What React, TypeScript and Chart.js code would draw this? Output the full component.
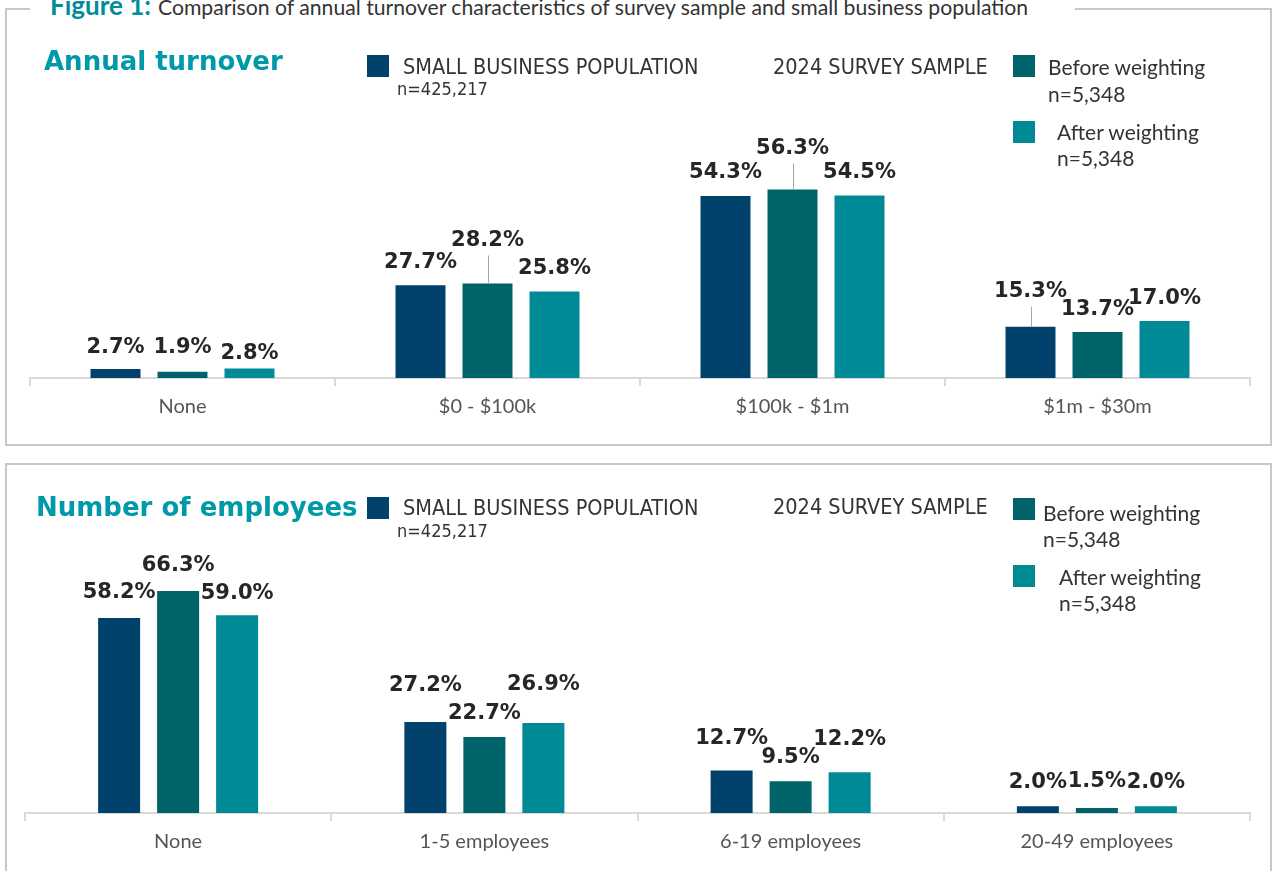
import React, { useEffect, useRef } from 'react';
import { Chart, registerables } from 'chart.js';

Chart.register(...registerables);

// ---------- data ----------
const seriesNames = ['SMALL BUSINESS POPULATION', 'Before weighting', 'After weighting'];
const seriesColors = ['#00426b', '#00636a', '#008a96'];

const turnoverCategories = ['None', '$0 - $100k', '$100k - $1m', '$1m - $30m'];
const turnoverPopulation = [2.7, 27.7, 54.3, 15.3];
const turnoverBefore = [1.9, 28.2, 56.3, 13.7];
const turnoverAfter = [2.8, 25.8, 54.5, 17.0];

const employeeCategories = ['None', '1-5 employees', '6-19 employees', '20-49 employees'];
const employeePopulation = [58.2, 27.2, 12.7, 2.0];
const employeeBefore = [66.3, 22.7, 9.5, 1.5];
const employeeAfter = [59.0, 26.9, 12.2, 2.0];

// ---------- label placement (style, not data) ----------
const turnoverLift = [
  [21, 23, 24, 35],
  [24, 43, 41, 23],
  [15, 23, 23, 23],
];
const turnoverLeader = [
  [false, false, false, true],
  [false, true, true, false],
  [false, false, false, false],
];
const employeeLift = [
  [25, 36, 32, 24],
  [25, 23, 24, 26],
  [22, 38, 33, 24],
];
const employeeLeader = [
  [false, false, false, false],
  [false, false, false, false],
  [false, false, false, false],
];

const TEAL = '#0099a8';
const BORDER = '#c8c8c8';

const makeValueLabels = (lifts: number[][], leaders: boolean[][]) => ({
  id: 'valueLabels',
  afterDatasetsDraw(chart: any) {
    const ctx = chart.ctx;
    ctx.save();
    ctx.font = 'bold 21px "DejaVu Sans"';
    ctx.fillStyle = '#262626';
    ctx.textAlign = 'center';
    ctx.textBaseline = 'middle';
    chart.data.datasets.forEach((ds: any, i: number) => {
      const meta = chart.getDatasetMeta(i);
      meta.data.forEach((el: any, j: number) => {
        const v = ds.data[j] as number;
        const x = el.x;
        const y = el.y;
        const ly = y - lifts[i][j];
        if (leaders[i][j]) {
          ctx.strokeStyle = '#a6a6a6';
          ctx.lineWidth = 1;
          ctx.beginPath();
          ctx.moveTo(Math.round(x) + 0.5, y);
          ctx.lineTo(Math.round(x) + 0.5, ly + 15);
          ctx.stroke();
        }
        ctx.fillText(v.toFixed(1) + '%', x, ly);
      });
    });
    ctx.restore();
  },
});

type ChartProps = {
  top: number;
  height: number;
  categories: string[];
  values: number[][];
  lifts: number[][];
  leaders: boolean[][];
  padLeft: number;
  padRight: number;
  catPct: number;
  barPct: number;
};

function BarChart(p: ChartProps) {
  const ref = useRef<HTMLCanvasElement>(null);
  useEffect(() => {
    const canvas = ref.current!;
    const chart = new Chart(canvas, {
      type: 'bar',
      data: {
        labels: p.categories,
        datasets: p.values.map((v, i) => ({
          label: seriesNames[i],
          data: v,
          backgroundColor: seriesColors[i],
          borderWidth: 0,
          categoryPercentage: p.catPct,
          barPercentage: p.barPct,
        })),
      },
      options: {
        animation: false,
        responsive: false,
        layout: { padding: { left: p.padLeft, right: p.padRight, top: 0, bottom: 0 } },
        plugins: { legend: { display: false }, tooltip: { enabled: false } },
        scales: {
          x: {
            grid: {
              offset: true,
              drawOnChartArea: false,
              drawTicks: true,
              tickLength: 8,
              color: '#d9d9d9',
              lineWidth: 2,
            },
            border: { color: '#d9d9d9', width: 2 },
            ticks: {
              color: '#555555',
              padding: 10,
              font: { family: 'Lato', size: 20, lineHeight: '22px' as any },
            },
          },
          y: { display: false, min: 0, max: 100 },
        },
      },
      plugins: [makeValueLabels(p.lifts, p.leaders)],
    });
    return () => chart.destroy();
  }, []);
  return (
    <canvas
      ref={ref}
      width={1276}
      height={p.height}
      style={{ position: 'absolute', left: 0, top: p.top, width: 1276, height: p.height }}
    />
  );
}

type TProps = {
  x: number;
  cy: number;
  size: number;
  family: string;
  color?: string;
  weight?: string | number;
  children: React.ReactNode;
};

function T({ x, cy, size, family, color = '#333333', weight = 'normal', children }: TProps) {
  const lh = Math.round(size * 1.2);
  return (
    <div
      style={{
        position: 'absolute',
        left: x,
        top: cy - lh / 2,
        height: lh,
        lineHeight: lh + 'px',
        fontSize: size,
        fontFamily: family,
        fontWeight: weight as any,
        color,
        whiteSpace: 'nowrap',
      }}
    >
      {children}
    </div>
  );
}

function Square({ x, y, color }: { x: number; y: number; color: string }) {
  return <div style={{ position: 'absolute', left: x, top: y, width: 22, height: 22, background: color }} />;
}

const LEG = '"DejaVu Sans Condensed", "DejaVu Sans", sans-serif';
const HUM = 'Lato, "Open Sans", sans-serif';
const HEAD = '"DejaVu Sans", sans-serif';

export default function App() {
  return (
    <div
      style={{
        position: 'absolute',
        left: 0,
        top: 0,
        width: 1276,
        height: 871,
        overflow: 'hidden',
        background: '#ffffff',
      }}
    >
      {/* panel borders */}
      <div
        style={{
          position: 'absolute',
          left: 5,
          top: 8,
          width: 1267,
          height: 438,
          border: `2px solid ${BORDER}`,
          boxSizing: 'border-box',
        }}
      />
      <div
        style={{
          position: 'absolute',
          left: 5,
          top: 463,
          width: 1267,
          height: 440,
          border: `2px solid ${BORDER}`,
          boxSizing: 'border-box',
        }}
      />
      {/* figure caption over the top border */}
      <div
        style={{
          position: 'absolute',
          left: 30,
          top: -8,
          width: 1045,
          height: 28,
          lineHeight: '26px',
          background: '#ffffff',
          fontFamily: HUM,
          color: '#333333',
          whiteSpace: 'nowrap',
          paddingLeft: 20,
          boxSizing: 'border-box',
        }}
      >
        <span style={{ color: '#008c99', fontWeight: 'bold', fontSize: 26 }}>Figure 1:</span>
        <span style={{ fontSize: 21.2, marginLeft: 7 }}>
          Comparison of annual turnover characteristics of survey sample and small business population
        </span>
      </div>

      <BarChart
        top={43}
        height={385}
        categories={turnoverCategories}
        values={[turnoverPopulation, turnoverBefore, turnoverAfter]}
        lifts={turnoverLift}
        leaders={turnoverLeader}
        padLeft={30}
        padRight={26}
        catPct={0.659}
        barPct={0.746}
      />
      <BarChart
        top={478}
        height={385}
        categories={employeeCategories}
        values={[employeePopulation, employeeBefore, employeeAfter]}
        lifts={employeeLift}
        leaders={employeeLeader}
        padLeft={25}
        padRight={26}
        catPct={0.578}
        barPct={0.712}
      />

      {/* top panel title & legend */}
      <T x={44} cy={61} size={26} family={HEAD} color={TEAL} weight="bold">Annual turnover</T>
      <Square x={367} y={55} color={seriesColors[0]} />
      <T x={403} cy={67} size={21.5} family={LEG}>{seriesNames[0]}</T>
      <T x={397} cy={89} size={18} family={LEG}>n=425,217</T>
      <T x={773} cy={67} size={21.5} family={LEG}>2024 SURVEY SAMPLE</T>
      <Square x={1013} y={55} color={seriesColors[1]} />
      <T x={1048} cy={66} size={21} family={HUM}>{seriesNames[1]}</T>
      <T x={1048} cy={93} size={21} family={HUM}>n=5,348</T>
      <Square x={1013} y={121} color={seriesColors[2]} />
      <T x={1057} cy={131} size={21} family={HUM}>{seriesNames[2]}</T>
      <T x={1057} cy={157} size={21} family={HUM}>n=5,348</T>

      {/* bottom panel title & legend */}
      <T x={36} cy={507} size={26} family={HEAD} color={TEAL} weight="bold">Number of employees</T>
      <Square x={367} y={497} color={seriesColors[0]} />
      <T x={403} cy={508} size={21.5} family={LEG}>{seriesNames[0]}</T>
      <T x={397} cy={531} size={18} family={LEG}>n=425,217</T>
      <T x={773} cy={507} size={21.5} family={LEG}>2024 SURVEY SAMPLE</T>
      <Square x={1013} y={498} color={seriesColors[1]} />
      <T x={1043} cy={512} size={21} family={HUM}>{seriesNames[1]}</T>
      <T x={1043} cy={538} size={21} family={HUM}>n=5,348</T>
      <Square x={1013} y={565} color={seriesColors[2]} />
      <T x={1059} cy={576} size={21} family={HUM}>{seriesNames[2]}</T>
      <T x={1059} cy={602} size={21} family={HUM}>n=5,348</T>
    </div>
  );
}
